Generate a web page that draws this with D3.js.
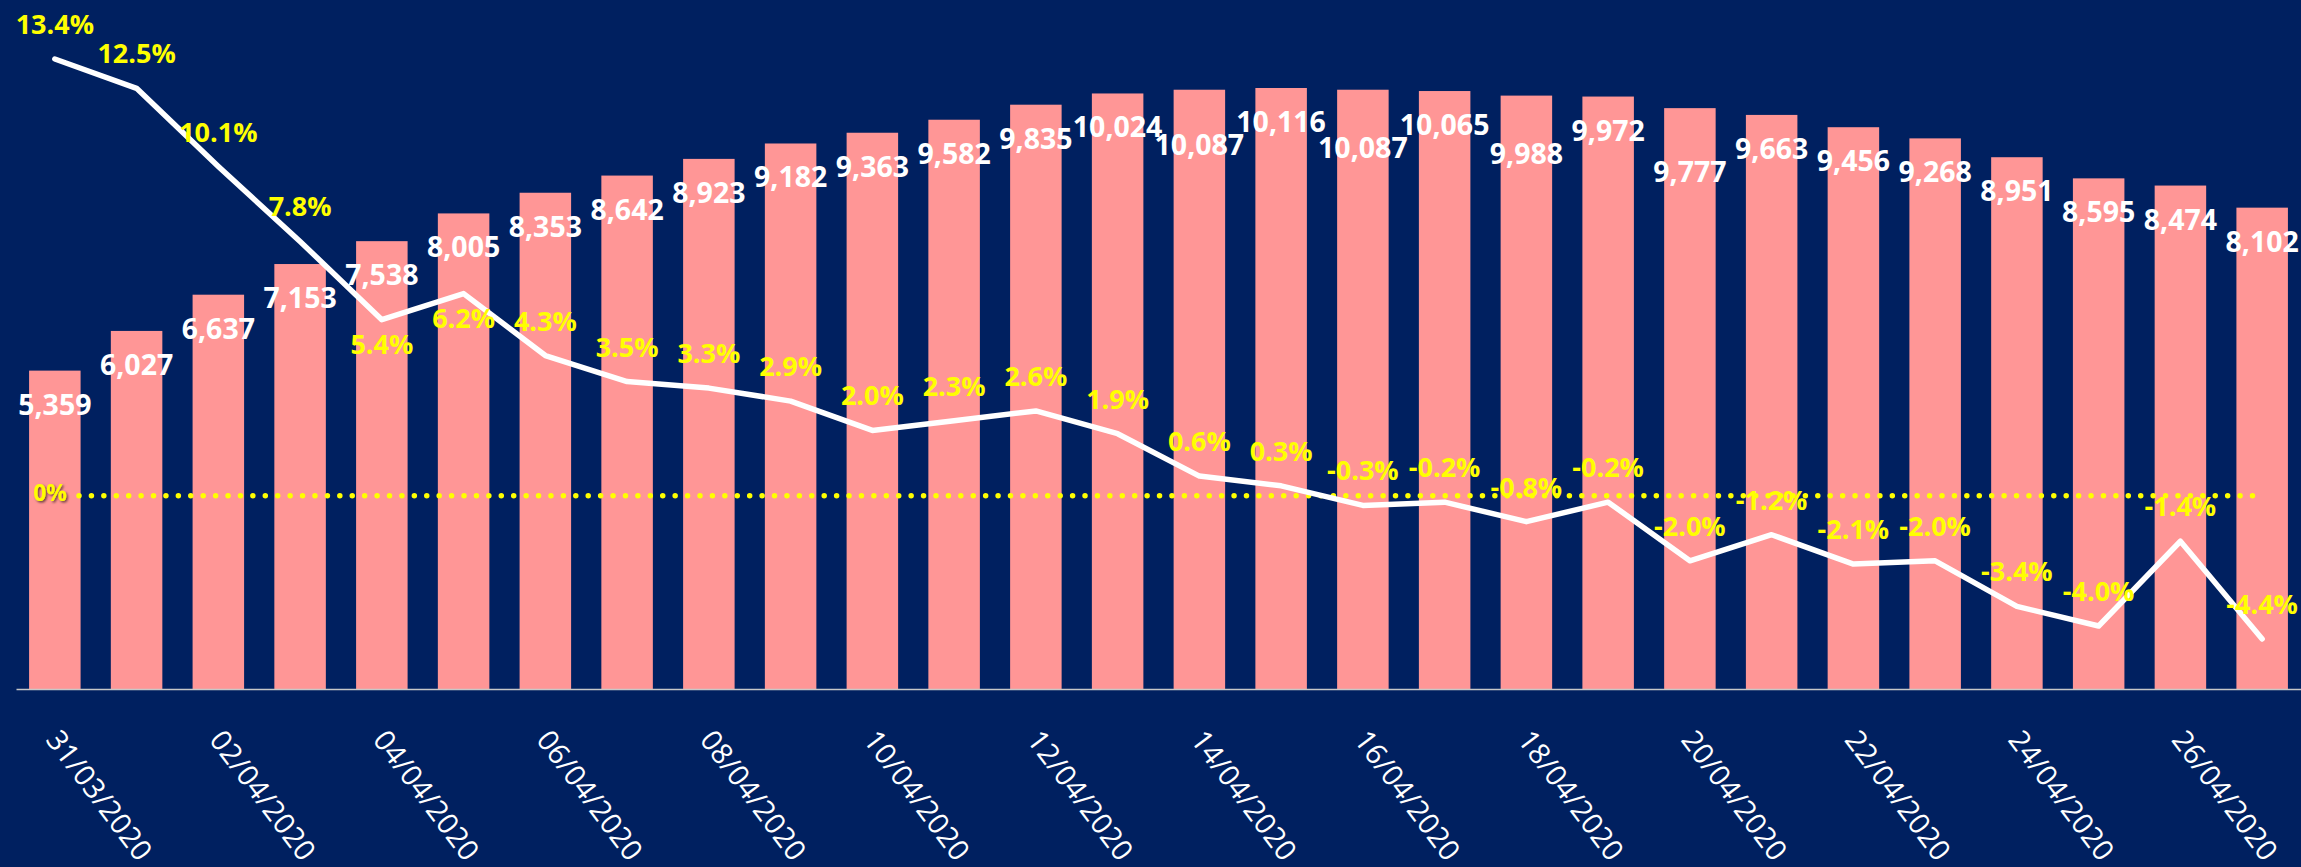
<!DOCTYPE html>
<html>
<head>
<meta charset="utf-8">
<script src="https://d3js.org/d3.v7.min.js"></script>
<style>
  body { margin: 0; background: #002060; }
  text { font-family: "Open Sans", "Noto Sans", sans-serif; }
</style>
</head>
<body>
<script>
// data
var dates = ["31/03/2020", "01/04/2020", "02/04/2020", "03/04/2020", "04/04/2020", "05/04/2020",
  "06/04/2020", "07/04/2020", "08/04/2020", "09/04/2020", "10/04/2020", "11/04/2020",
  "12/04/2020", "13/04/2020", "14/04/2020", "15/04/2020", "16/04/2020", "17/04/2020",
  "18/04/2020", "19/04/2020", "20/04/2020", "21/04/2020", "22/04/2020", "23/04/2020",
  "24/04/2020", "25/04/2020", "26/04/2020", "27/04/2020"];
var totals = [5359, 6027, 6637, 7153, 7538, 8005, 8353, 8642, 8923, 9182, 9363, 9582, 9835, 10024,
  10087, 10116, 10087, 10065, 9988, 9972, 9777, 9663, 9456, 9268, 8951, 8595, 8474, 8102];
var growth = [13.4, 12.5, 10.1, 7.8, 5.4, 6.2, 4.3, 3.5, 3.3, 2.9, 2.0, 2.3, 2.6, 1.9, 0.6, 0.3,
  -0.3, -0.2, -0.8, -0.2, -2.0, -1.2, -2.1, -2.0, -3.4, -4.0, -1.4, -4.4];
var tickDates = ["31/03/2020", "02/04/2020", "04/04/2020", "06/04/2020", "08/04/2020", "10/04/2020",
  "12/04/2020", "14/04/2020", "16/04/2020", "18/04/2020", "20/04/2020", "22/04/2020",
  "24/04/2020", "26/04/2020"];
var zeroLine = 0;

var svgWidth = 2301, svgHeight = 867;
var baseY = 689;

var svg = d3.select("body").append("svg")
  .attr("width", svgWidth)
  .attr("height", svgHeight);

svg.append("rect")
  .attr("width", svgWidth)
  .attr("height", svgHeight)
  .style("fill", "#002060");

var defs = svg.append("defs");
defs.append("filter").attr("id", "shadow")
  .append("feDropShadow")
  .attr("dx", 1.5).attr("dy", 1.5).attr("stdDeviation", 1)
  .attr("flood-color", "#000").attr("flood-opacity", 0.6);

var x = d3.scaleBand().domain(dates).range([16, svgWidth]).paddingInner(0.37).paddingOuter(0.16);
var yBar = d3.scaleLinear().domain([0, d3.max(totals)]).range([baseY, 88]);
var yLine = d3.scaleLinear().domain([d3.min(growth), d3.max(growth)]).range([639, 59]);
var cx = function(i) { return x(dates[i]) + x.bandwidth() / 2; };

// bars
svg.append("g").selectAll("rect")
  .data(totals)
  .enter().append("rect")
  .attr("x", function(d, i) { return x(dates[i]); })
  .attr("y", function(d) { return yBar(d); })
  .attr("width", x.bandwidth())
  .attr("height", function(d) { return baseY - yBar(d); })
  .style("fill", "#ff9696");

// x axis
var axis = svg.append("g")
  .attr("transform", "translate(0," + baseY + ")")
  .call(d3.axisBottom(x).tickValues(tickDates).tickSize(0).tickSizeOuter(0));
axis.select(".domain").attr("stroke", "#c8c8c8").attr("stroke-width", 1.5);
axis.selectAll("text")
  .attr("x", 0).attr("y", 0).attr("dy", 0)
  .attr("transform", "translate(-10,51) rotate(53)")
  .style("text-anchor", "start")
  .style("font-size", "29px")
  .style("font-family", "'Open Sans', sans-serif")
  .style("fill", "#ffffff");

// zero line
var y0 = yLine(zeroLine);
svg.append("line")
  .attr("x1", 79).attr("x2", cx(dates.length - 1) - 8)
  .attr("y1", y0).attr("y2", y0)
  .attr("stroke", "#ffff00")
  .attr("stroke-width", 5.5)
  .attr("stroke-linecap", "round")
  .attr("stroke-dasharray", "0 12.42");
svg.append("text")
  .attr("x", 67).attr("y", y0 + 5)
  .attr("text-anchor", "end")
  .attr("filter", "url(#shadow)")
  .style("font-size", "23px").style("font-weight", "bold")
  .style("fill", "#ffff00")
  .text("0%");

// growth line
var line = d3.line()
  .x(function(d, i) { return cx(i); })
  .y(function(d) { return yLine(d); });
svg.append("path")
  .datum(growth)
  .attr("d", line)
  .attr("fill", "none")
  .attr("stroke", "#ffffff")
  .attr("stroke-width", 5.5)
  .attr("stroke-linejoin", "round")
  .attr("stroke-linecap", "round");

// labels, placed with a small collision pass
var capH = 20;
function clash(a, b, pad, minOverlap) {
  var hx = a.x - pad < b.x + b.w + pad && b.x - pad < a.x + a.w + pad;
  var ov = Math.min(a.y + a.h, b.y + b.h) - Math.max(a.y, b.y);
  return hx && ov > minOverlap;
}

var barLabels = svg.append("g").selectAll("text")
  .data(totals)
  .enter().append("text")
  .attr("x", function(d, i) { return cx(i); })
  .attr("y", function(d) { return yBar(d) + 44; })
  .attr("text-anchor", "middle")
  .style("font-size", "28.5px").style("font-weight", "bold")
  .style("fill", "#ffffff")
  .text(function(d) { return d3.format(",")(d); });

var barBoxes = [];
var nodes = barLabels.nodes();
for (var i = totals.length - 1; i >= 0; i--) {
  var bb = nodes[i].getBBox();
  var b = { x: bb.x, w: bb.width, y: yBar(totals[i]) + 44 - capH, h: capH };
  var hit = barBoxes.filter(function(p) { return clash(b, p, 5, 13); });
  while (hit.length) {
    b.y = d3.max(hit, function(p) { return p.y + p.h; }) + 3;
    hit = barBoxes.filter(function(p) { return clash(b, p, 5, 0); });
  }
  d3.select(nodes[i]).attr("y", b.y + capH);
  barBoxes.push(b);
}

var pctLabels = svg.append("g");
growth.forEach(function(v, i) {
  var py = yLine(v);
  var base = py - 25;
  var t = pctLabels.append("text")
    .attr("x", cx(i)).attr("y", base)
    .attr("text-anchor", "middle")
    .style("font-size", "27px").style("font-weight", "bold")
    .style("fill", "#ffff00")
    .text(v.toFixed(1) + "%");
  var bb = t.node().getBBox();
  var b = { x: bb.x, w: bb.width, y: base - capH, h: capH };
  if (barBoxes.some(function(p) { return clash(b, p, 0, 0); })) {
    t.attr("y", py + 34);
  }
});
</script>
</body>
</html>
